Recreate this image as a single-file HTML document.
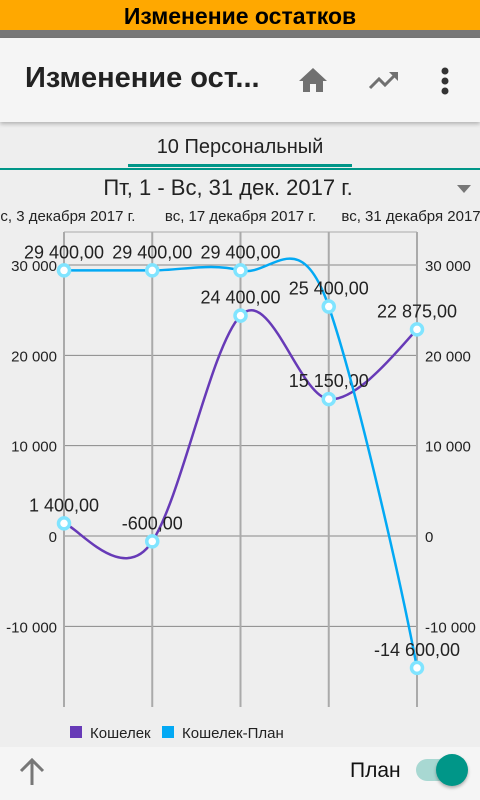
<!DOCTYPE html>
<html><head><meta charset="utf-8"><style>
body{margin:0;width:480px;height:800px;overflow:hidden;background:#eeeeee;font-family:"Liberation Sans","Noto Sans CJK SC",sans-serif;position:relative}
.abs{position:absolute}
</style></head><body>
<div class="abs" style="left:0;top:0;width:480px;height:30px;background:#ffa800;text-align:center;font-size:23px;font-weight:bold;line-height:32px;color:#000">Изменение остатков</div>
<div class="abs" style="left:0;top:30px;width:480px;height:8px;background:#777"></div>
<div class="abs" style="left:0;top:38px;width:480px;height:84px;background:#f5f5f5;box-shadow:0 2px 4px rgba(0,0,0,.25)">
 <div class="abs" style="left:25px;top:24px;font-size:29px;font-weight:bold;color:#222">Изменение ост...</div>
 <svg class="abs" style="left:297px;top:28px" width="32" height="28" viewBox="0 0 32 28"><path d="M16 2 L30 15 L26 15 L26 26 L19 26 L19 18 L13 18 L13 26 L6 26 L6 15 L2 15 Z" fill="#707070"/></svg>
 <svg class="abs" style="left:368px;top:30px" width="32" height="24" viewBox="0 0 32 24"><path d="M2 20 L11 11 L17 17 L28 6" stroke="#707070" stroke-width="3" fill="none"/><path d="M21 4 L30 4 L30 13 Z" fill="#707070"/></svg>
 <svg class="abs" style="left:440px;top:28px" width="10" height="30"><circle cx="5" cy="5" r="3.5" fill="#333"/><circle cx="5" cy="15" r="3.5" fill="#333"/><circle cx="5" cy="25" r="3.5" fill="#333"/></svg>
</div>
<div class="abs" style="left:128px;top:136px;width:224px;text-align:center;font-size:20px;color:#222">10 Персональный</div>
<div class="abs" style="left:128px;top:164px;width:224px;height:3px;background:#009688"></div>
<div class="abs" style="left:0;top:168px;width:480px;height:2px;background:#009688"></div>
<div class="abs" style="left:0;top:175px;width:456px;text-align:center;font-size:22px;color:#222">Пт, 1 - Вс, 31 дек. 2017 г.</div>
<svg class="abs" style="left:456px;top:184px" width="16" height="10"><path d="M1 1 L15 1 L8 9 Z" fill="#777"/></svg>
<svg class="abs" id="chart" style="left:0;top:200px" width="480" height="545"></svg>
<div class="abs" style="left:0;top:747px;width:480px;height:53px;background:#f5f5f5">
 <svg class="abs" style="left:18px;top:10px" width="28" height="30"><path d="M14 28 L14 4 M3 14 L14 3 L25 14" stroke="#777" stroke-width="3" fill="none"/></svg>
 <div class="abs" style="left:350px;top:12px;font-size:21px;color:#111">План</div>
 <div class="abs" style="left:416px;top:12px;width:50px;height:22px;border-radius:11px;background:#a8d8d2">
  <div class="abs" style="left:20px;top:-5px;width:32px;height:32px;border-radius:16px;background:#009688;box-shadow:0 2px 3px rgba(0,0,0,.3)"></div>
 </div>
</div>
<script>
const categories=["вс, 3 декабря 2017 г.","","вс, 17 декабря 2017 г.","","вс, 31 декабря 2017 г."];
const walletValues=[1400,-600,24400,15150,22875];
const planValues=[29400,29400,29400,25400,-14600];
const yTicks=[-10000,0,10000,20000,30000];
const tickLabels=["-10 000","0","10 000","20 000","30 000"];
const valueLabels1=["1 400,00","-600,00","24 400,00","15 150,00","22 875,00"];
const valueLabels2=["29 400,00","29 400,00","29 400,00","25 400,00","-14 600,00"];
const svg=document.getElementById('chart');
const NS="http://www.w3.org/2000/svg";
const OY=200;
function X(i){return 64+i*88.25;}
function Y(v){return 536-OY-v*0.009033;}
function el(t,a){const e=document.createElementNS(NS,t);for(const k in a)e.setAttribute(k,a[k]);svg.appendChild(e);return e;}
const plotTop=232-OY,plotBot=707-OY;
yTicks.forEach((v,i)=>{
 const l=el('line',{x1:64,x2:417,y1:Y(v),y2:Y(v),stroke:'#888','stroke-width':1});
 
 
 const t1=el('text',{x:57,y:Y(v)+6,'text-anchor':'end','font-size':15,fill:'#222'});t1.textContent=tickLabels[i];
 
 
 const t2=el('text',{x:425,y:Y(v)+6,'font-size':15,fill:'#222'});t2.textContent=tickLabels[i];
 
 
});
el('line',{x1:64,x2:417,y1:plotTop,y2:plotTop,stroke:'#aaa','stroke-width':1});
categories.forEach((c,i)=>{
 const l=el('line',{x1:X(i),x2:X(i),y1:plotTop,y2:plotBot,stroke:'#aaa','stroke-width':2});
 
 
 if(c){const t=el('text',{x:X(i),y:221-OY,'text-anchor':'middle','font-size':15,fill:'#222'});t.textContent=c;
 
 }
});
function curve(vals){
 const p=vals.map((v,i)=>[X(i),Y(v)]);let d=`M${p[0][0]},${p[0][1]}`;
 for(let i=0;i<p.length-1;i++){
  const p0=p[Math.max(i-1,0)],p1=p[i],p2=p[i+1],p3=p[Math.min(i+2,p.length-1)];
  const c1=[p1[0]+(p2[0]-p0[0])/6,p1[1]+(p2[1]-p0[1])/6*1.3];
  const c2=[p2[0]-(p3[0]-p1[0])/6,p2[1]-(p3[1]-p1[1])/6*1.3];
  d+=` C${c1[0]},${c1[1]} ${c2[0]},${c2[1]} ${p2[0]},${p2[1]}`;
 }return d;}
function series(vals,labels,color,name){
 const path=el('path',{d:curve(vals),stroke:color,'stroke-width':2.5,fill:'none'});
 
 
 vals.forEach((v,i)=>{
  const c=el('circle',{cx:X(i),cy:Y(v),r:5.5,fill:'#fff',stroke:'#80e4ff','stroke-width':3.5});
  
  
  const t=el('text',{x:X(i),y:Y(v)-12,'text-anchor':'middle','font-size':18,fill:'#222'});t.textContent=labels[i];
  
  
 });
}
series(walletValues,valueLabels1,'#673ab7','wallet');
series(planValues,valueLabels2,'#03a9f4','plan');
const lg=[['Кошелек','#673ab7',70],['Кошелек-План','#03a9f4',162]];
lg.forEach(([n,c,x])=>{
 const r=el('rect',{x:x,y:726-OY,width:12,height:12,fill:c});
 
 
 const t=el('text',{x:x+20,y:738-OY,'font-size':15,fill:'#222'});t.textContent=n;
 
 
});
</script>
</body></html>
